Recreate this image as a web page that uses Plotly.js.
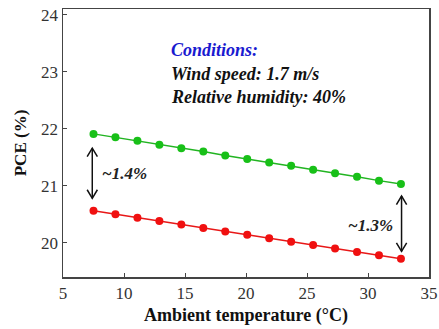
<!DOCTYPE html>
<html><head><meta charset="utf-8">
<script src="https://cdn.plot.ly/plotly-3.0.1.min.js"></script>
<style>html,body{margin:0;padding:0;background:#fff}#c{width:439px;height:329px}</style>
</head><body><div id="c"></div>
<script>
var temps = [7.5, 9.3, 11.1, 12.9, 14.7, 16.5, 18.3, 20.1, 21.9, 23.7, 25.5, 27.3, 29.1, 30.9, 32.7];
var pceGreen = [21.91, 21.85, 21.79, 21.72, 21.66, 21.60, 21.53, 21.47, 21.41, 21.35, 21.28, 21.22, 21.16, 21.09, 21.03];
var pceRed = [20.56, 20.50, 20.44, 20.38, 20.32, 20.26, 20.20, 20.14, 20.08, 20.02, 19.96, 19.90, 19.84, 19.78, 19.72];
var xTicks = [5, 10, 15, 20, 25, 30, 35];
var yTicks = [20, 21, 22, 23, 24];
var gapLeft = {x: 7.4, y0: 21.66, y1: 20.78, label: "~1.4%"};
var gapRight = {x: 32.75, y0: 20.82, y1: 19.85, label: "~1.3%"};

var font = "Liberation Serif, DejaVu Serif, serif";

function dblArrow(a) {
  var hw = 0.42, hh = 0.15;
  var line = {color: "#111", width: 1.5};
  return [
    {type: "line", xref: "x", yref: "y", x0: a.x, x1: a.x, y0: a.y0, y1: a.y1, line: line},
    {type: "path", xref: "x", yref: "y", line: line,
     path: "M" + (a.x - hw) + "," + (a.y0 - hh) + " L" + a.x + "," + a.y0 + " L" + (a.x + hw) + "," + (a.y0 - hh)},
    {type: "path", xref: "x", yref: "y", line: line,
     path: "M" + (a.x - hw) + "," + (a.y1 + hh) + " L" + a.x + "," + a.y1 + " L" + (a.x + hw) + "," + (a.y1 + hh)}
  ];
}

var traces = [
  {x: temps, y: pceGreen, mode: "lines+markers", line: {color: "#22b422", width: 1.5},
   marker: {color: "#18c018", size: 8}, showlegend: false},
  {x: temps, y: pceRed, mode: "lines+markers", line: {color: "#e81818", width: 1.5},
   marker: {color: "#f01010", size: 8}, showlegend: false}
];

var layout = {
  width: 439, height: 329,
  margin: {l: 63, r: 10, t: 9, b: 52},
  paper_bgcolor: "#fff", plot_bgcolor: "#fff",
  font: {family: font, color: "#333", size: 15},
  xaxis: {range: [5, 35], tickvals: xTicks, ticks: "inside", ticklen: 4, tickcolor: "#444",
    showline: true, linecolor: "#444", linewidth: 1.5, mirror: true, showgrid: false, zeroline: false,
    tickfont: {family: font, size: 17, color: "#333"},
    title: {text: "<b>Ambient temperature (°C)</b>", font: {family: font, size: 18, color: "#111"}, standoff: 6}},
  yaxis: {range: [19.4, 24.1], tickvals: yTicks, ticks: "inside", ticklen: 4, tickcolor: "#444",
    showline: true, linecolor: "#444", linewidth: 1.5, mirror: true, showgrid: false, zeroline: false,
    tickfont: {family: font, size: 17, color: "#333"},
    title: {text: "<b>PCE (%)</b>", font: {family: font, size: 17, color: "#111"}, standoff: 10}},
  shapes: dblArrow(gapLeft).concat(dblArrow(gapRight)),
  annotations: [
    {xref: "paper", yref: "paper", x: 0.29, y: 0.847, xanchor: "left", yanchor: "middle", showarrow: false,
     text: "<b><i>Conditions:</i></b>", font: {family: font, size: 18, color: "#1a1ad0"}},
    {xref: "paper", yref: "paper", x: 0.29, y: 0.757, xanchor: "left", yanchor: "middle", showarrow: false,
     text: "<b><i>Wind speed: 1.7 m/s</i></b>", font: {family: font, size: 18, color: "#111"}},
    {xref: "paper", yref: "paper", x: 0.29, y: 0.672, xanchor: "left", yanchor: "middle", showarrow: false,
     text: "<b><i>Relative humidity: 40%</i></b>", font: {family: font, size: 18, color: "#111"}},
    {xref: "x", yref: "y", x: 8.0, y: 21.22, xanchor: "left", yanchor: "middle", showarrow: false,
     text: "<b><i>" + gapLeft.label + "</i></b>", font: {family: font, size: 17, color: "#222"}},
    {xref: "x", yref: "y", x: 32.2, y: 20.3, xanchor: "right", yanchor: "middle", showarrow: false,
     text: "<b><i>" + gapRight.label + "</i></b>", font: {family: font, size: 17, color: "#222"}}
  ]
};

Plotly.newPlot("c", traces, layout, {displayModeBar: false, staticPlot: true});
</script>
</body></html>
